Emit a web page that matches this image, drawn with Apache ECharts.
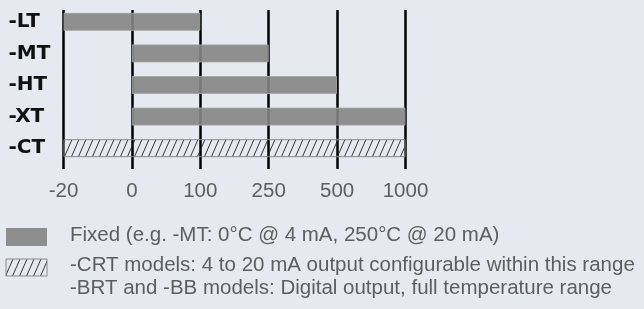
<!DOCTYPE html>
<html>
<head>
<meta charset="utf-8">
<script src="https://cdn.jsdelivr.net/npm/echarts@6/dist/echarts.min.js"></script>
<style>
html, body { margin: 0; padding: 0; background: #e6e9f0; }
#main { width: 644px; height: 309px; }
</style>
</head>
<body>
<div id="main"></div>
<script>
var categories = ['-LT', '-MT', '-HT', '-XT', '-CT'];
var rangeStart = [-20, 0, 0, 0, -20];
var rangeEnd = [100, 250, 500, 1000, 1000];
var tickValues = [-20, 0, 100, 250, 500, 1000];
var tickLabels = ['-20', '0', '100', '250', '500', '1000'];
var hatched = [false, false, false, false, true];
var legendFixed = 'Fixed (e.g. -MT: 0°C @ 4 mA, 250°C @ 20 mA)';
var legendRange = ['-CRT models: 4 to 20 mA output configurable within this range',
                   '-BRT and -BB models: Digital output, full temperature range'];

// diagonal hatch tile
function hatchPattern() {
  var w = 7, h = 16;
  var c = document.createElement('canvas');
  c.width = w; c.height = h;
  var ctx = c.getContext('2d');
  ctx.strokeStyle = '#222';
  ctx.lineWidth = 0.9;
  [-w, 0, w].forEach(function (dx) {
    ctx.beginPath();
    ctx.moveTo(dx, h);
    ctx.lineTo(dx + w, 0);
    ctx.stroke();
  });
  return { image: c, repeat: 'repeat' };
}
var hatch = hatchPattern();

// position on the (evenly spaced) axis
function pos(t) { return tickValues.indexOf(t); }

var baseData = rangeStart.map(pos);
var spanData = rangeStart.map(function (s, i) {
  if (hatched[i]) {
    return { value: pos(rangeEnd[i]) - pos(s),
      itemStyle: { color: hatch, borderColor: '#8a8a8a', borderWidth: 1, opacity: 1 } };
  }
  return pos(rangeEnd[i]) - pos(s);
});

var myChart = echarts.init(document.getElementById('main'));
var lightFont = '20.5px "Liberation Sans"';

var option = {
  backgroundColor: '#e6e9f0',
  animation: false,
  grid: [
    { left: 63.5, width: 342, top: 6, height: 158 },
    { left: 63.5, width: 342, top: 10, height: 159 }
  ],
  xAxis: [
    { gridIndex: 0, type: 'value', min: 0, max: 5, interval: 1, show: false },
    {
      gridIndex: 1, type: 'value', min: 0, max: 5, interval: 1,
      axisLine: { show: false }, axisTick: { show: false },
      splitLine: { lineStyle: { color: '#000', width: 2.5 } },
      axisLabel: {
        margin: 12, fontFamily: 'Liberation Sans', fontSize: 20.5, color: '#5e5e5e',
        formatter: function (v) { return tickLabels[v]; }
      }
    }
  ],
  yAxis: [
    {
      gridIndex: 0, type: 'category', data: categories, inverse: true,
      axisLine: { show: false }, axisTick: { show: false },
      axisLabel: { align: 'left', margin: 55, fontFamily: 'DejaVu Sans', fontWeight: 'bold', fontSize: 20, color: '#111' }
    },
    { gridIndex: 1, type: 'value', show: false, splitLine: { show: false } }
  ],
  series: [
    { type: 'bar', stack: 'r', barWidth: 18, data: baseData, itemStyle: { color: 'transparent' }, silent: true },
    {
      type: 'bar', stack: 'r', barWidth: 18, data: spanData,
      itemStyle: { color: '#858585', opacity: 0.9, borderColor: '#a5a5a5', borderWidth: 1 }
    }
  ],
  graphic: {
    elements: [
      { type: 'rect', x: 6, y: 228, shape: { width: 41, height: 18 }, style: { fill: '#8e8e8e' } },
      { type: 'rect', x: 6, y: 259, shape: { width: 41, height: 17 }, style: { fill: hatch, stroke: '#8a8a8a', lineWidth: 1 } },
      { type: 'text', x: 70, y: 235, style: { text: legendFixed, font: lightFont, fill: '#5e5e5e', verticalAlign: 'middle' } },
      { type: 'text', x: 70, y: 265, style: { text: legendRange[0], font: lightFont, fill: '#5e5e5e', verticalAlign: 'middle' } },
      { type: 'text', x: 70, y: 288, style: { text: legendRange[1], font: lightFont, fill: '#5e5e5e', verticalAlign: 'middle' } }
    ]
  }
};

myChart.setOption(option);
</script>
</body>
</html>
